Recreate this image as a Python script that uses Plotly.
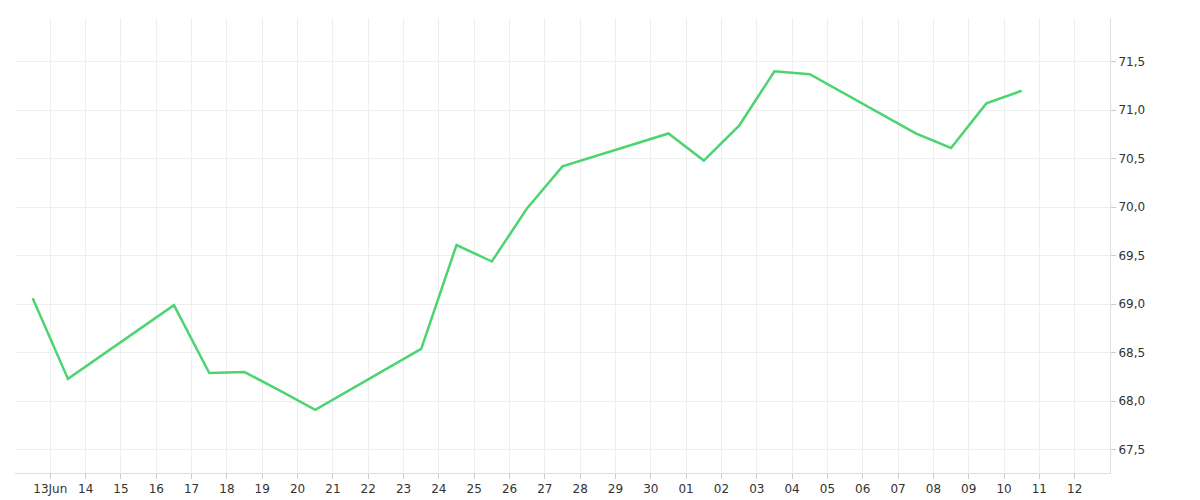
import plotly.graph_objects as go
import pandas as pd

dates = ["2024-06-12 12:00", "2024-06-13 12:00", "2024-06-16 12:00", "2024-06-17 12:00",
         "2024-06-18 12:00", "2024-06-19 12:00", "2024-06-20 12:00", "2024-06-23 12:00",
         "2024-06-24 12:00", "2024-06-25 12:00", "2024-06-26 12:00", "2024-06-27 12:00",
         "2024-06-30 12:00", "2024-07-01 12:00", "2024-07-02 12:00", "2024-07-03 12:00",
         "2024-07-04 12:00", "2024-07-07 12:00", "2024-07-08 12:00", "2024-07-09 12:00",
         "2024-07-10 12:00"]
values = [69.06, 68.23, 68.99, 68.29, 68.30, 68.11, 67.91, 68.54, 69.61, 69.44, 69.99,
          70.42, 70.76, 70.48, 70.84, 71.40, 71.37, 70.76, 70.61, 71.07, 71.20]

tick_dates = pd.date_range("2024-06-13", "2024-07-12", freq="D")
tick_labels = ["13Jun"] + [d.strftime("%d") for d in tick_dates[1:]]

fig = go.Figure()
fig.add_trace(go.Scatter(x=pd.to_datetime(dates), y=values, mode="lines",
                         line=dict(color="#4cd471", width=2.5)))

fig.update_layout(
    width=1200, height=500,
    margin=dict(l=7, r=98, t=10, b=35),
    paper_bgcolor="white", plot_bgcolor="white",
    showlegend=False,
    separators=",.",
    font=dict(family="DejaVu Sans", size=12, color="#333"),
    xaxis=dict(
        range=["2024-06-12", "2024-07-13"],
        tickvals=tick_dates, ticktext=tick_labels,
        showgrid=True, gridcolor="#eeeeee",
        ticks="outside", ticklen=5, tickcolor="#ccc",
        showline=True, linecolor="#dddddd",
    ),
    yaxis=dict(
        side="right", range=[67.26, 71.95], dtick=0.5, tick0=67.5, tickformat=".1f",
        showgrid=True, gridcolor="#eeeeee", zeroline=False,
        ticks="outside", ticklen=5, tickcolor="#ccc",
        showline=True, linecolor="#dddddd",
    ),
)

fig.write_html("out.html")
